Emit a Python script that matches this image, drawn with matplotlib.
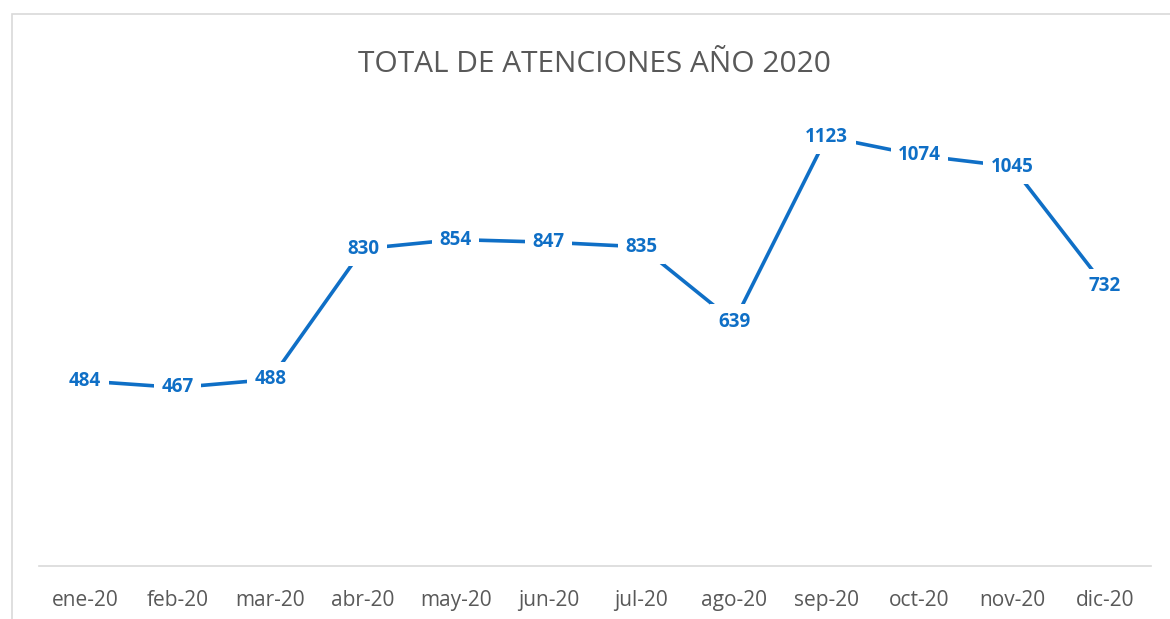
import matplotlib.pyplot as plt
from matplotlib.patches import Rectangle

meses = ['ene-20', 'feb-20', 'mar-20', 'abr-20', 'may-20', 'jun-20',
         'jul-20', 'ago-20', 'sep-20', 'oct-20', 'nov-20', 'dic-20']
atenciones = [484, 467, 488, 830, 854, 847, 835, 639, 1123, 1074, 1045, 732]

azul = '#0f6fc6'
gris = '#595959'

plt.rcParams['font.family'] = ['Open Sans', 'DejaVu Sans']

fig = plt.figure(figsize=(11.7, 6.19), dpi=100)
# marco del grafico (solo se ven borde izquierdo y superior)
fig.patches.append(Rectangle((12 / 1170, -0.1), 1.2, 1 - 14 / 619 + 0.1,
                             transform=fig.transFigure, fill=False,
                             edgecolor='#d9d9d9', linewidth=1.2))

ax = fig.add_axes([0.033, 0.0856, 0.951, 0.746])
x = list(range(len(meses)))
ax.plot(x, atenciones, color=azul, linewidth=2.6, solid_capstyle='butt', zorder=2)

for xi, v in zip(x, atenciones):
    ax.text(xi, v, str(v), ha='center', va='center', fontsize=13.5,
            fontweight='bold', color=azul, zorder=3,
            bbox=dict(boxstyle='square,pad=0.4', facecolor='white', edgecolor='none'))

ax.set_xlim(-0.5, len(meses) - 0.5)
ax.set_ylim(0, 1208)
ax.set_xticks(x)
ax.set_xticklabels(meses, fontsize=15, color=gris)
ax.tick_params(axis='x', length=0, pad=17)
ax.set_yticks([])
for lado in ['top', 'right', 'left']:
    ax.spines[lado].set_visible(False)
ax.spines['bottom'].set_color('#d9d9d9')
ax.spines['bottom'].set_linewidth(1.2)

fig.text(0.508, 1 - 64 / 619, 'TOTAL DE ATENCIONES AÑO 2020', ha='center',
         va='center', fontsize=21.5, color=gris)

fig.savefig('out.png', dpi=100)
